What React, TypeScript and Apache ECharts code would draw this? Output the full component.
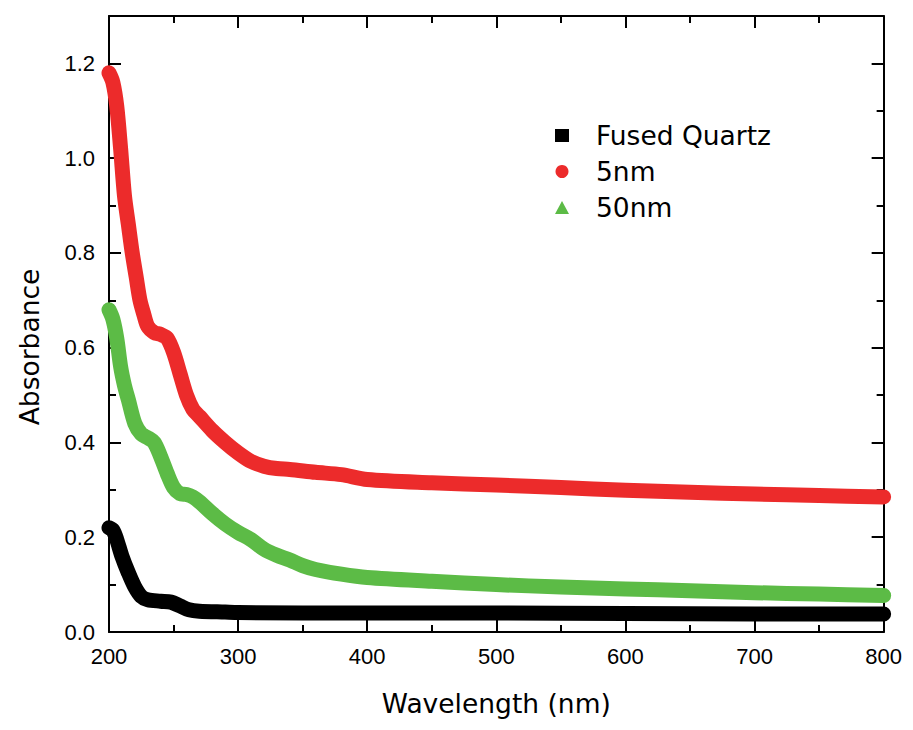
import React, { useEffect, useRef } from "react";
import * as echarts from "echarts";

const seriesNames = ["Fused Quartz", "5nm", "50nm"];
const seriesColors = ["#000000", "#ec2b2b", "#5cbb46"];
const seriesIcons = ["rect", "circle", "triangle"];

const quartzX = [200, 203, 206, 210, 215, 220, 225, 230, 240, 248, 255, 262, 270, 290, 300, 400, 500, 600, 700, 800];
const quartzY = [0.22, 0.215, 0.195, 0.16, 0.125, 0.095, 0.075, 0.068, 0.065, 0.063, 0.055, 0.047, 0.044, 0.042, 0.041, 0.04, 0.04, 0.039, 0.038, 0.038];

const nm5X = [200, 203, 206, 209, 212, 215, 218, 221, 224, 227, 230, 235, 240, 245, 250, 255, 260, 265, 270, 280, 290, 300, 310, 320, 330, 340, 360, 380, 400, 450, 500, 550, 600, 650, 700, 750, 800];
const nm5Y = [1.18, 1.16, 1.11, 1.02, 0.92, 0.86, 0.8, 0.75, 0.7, 0.67, 0.645, 0.632, 0.628, 0.62, 0.59, 0.545, 0.5, 0.47, 0.455, 0.425, 0.4, 0.378, 0.36, 0.35, 0.345, 0.343, 0.337, 0.332, 0.322, 0.315, 0.31, 0.305, 0.299, 0.295, 0.291, 0.288, 0.285];

const nm50X = [200, 203, 206, 209, 212, 215, 220, 225, 230, 235, 240, 245, 250, 255, 260, 265, 270, 280, 290, 300, 310, 320, 330, 340, 350, 360, 380, 400, 450, 500, 550, 600, 650, 700, 750, 800];
const nm50Y = [0.68, 0.66, 0.62, 0.56, 0.52, 0.49, 0.44, 0.418, 0.41, 0.4, 0.37, 0.335, 0.305, 0.292, 0.29, 0.285, 0.275, 0.25, 0.228, 0.21, 0.195, 0.175, 0.162, 0.152, 0.14, 0.132, 0.122, 0.115, 0.107, 0.1, 0.095, 0.091, 0.087, 0.083, 0.08, 0.077];

const xTickLabels = ["200", "300", "400", "500", "600", "700", "800"];
const yTickLabels = ["0.0", "0.2", "0.4", "0.6", "0.8", "1.0", "1.2"];

const FONT = "Liberation Sans, Arial, sans-serif";
const TITLE_FONT = "DejaVu Sans, sans-serif";

export default function App() {
  const ref = useRef<HTMLDivElement>(null);

  useEffect(() => {
    if (!ref.current) return;
    const chart = echarts.init(ref.current, undefined, { renderer: "svg" });
    const zip = (xs: number[], ys: number[]) => xs.map((x, i) => [x, ys[i]]);
    const datasets = [zip(quartzX, quartzY), zip(nm5X, nm5Y), zip(nm50X, nm50Y)];
    const axisLine = { show: true, onZero: false, lineStyle: { color: "#000", width: 2 } };

    const xBase = {
      type: "value" as const,
      min: 200,
      max: 800,
      interval: 100,
      axisLine,
      splitLine: { show: false },
    };
    const yBase = {
      type: "value" as const,
      min: 0,
      max: 1.3,
      interval: 0.2,
      axisLine,
      splitLine: { show: false },
    };

    chart.setOption({
      animation: false,
      backgroundColor: "#ffffff",
      grid: { left: 100, top: 8, width: 781, height: 624, containLabel: false },
      legend: {
        orient: "vertical",
        left: 542,
        top: 109,
        itemGap: 9,
        itemWidth: 14,
        itemHeight: 13,
        data: seriesNames.map((n, i) => ({ name: n, icon: seriesIcons[i] })),
        textStyle: { fontFamily: TITLE_FONT, fontSize: 26.5, color: "#000", padding: [0, 0, 0, 22] },
      },
      xAxis: [
        {
          ...xBase,
          position: "bottom",
          name: "Wavelength (nm)",
          nameLocation: "middle",
          nameGap: 58,
          nameTextStyle: { fontFamily: TITLE_FONT, fontSize: 26.5, color: "#000" },
          axisTick: { show: true, inside: true, length: 12, lineStyle: { color: "#000", width: 2 } },
          minorTick: { show: true, splitNumber: 2, length: 7, lineStyle: { color: "#000", width: 2 } },
          axisLabel: {
            show: true,
            margin: 13,
            fontFamily: FONT,
            fontSize: 22,
            color: "#000",
            formatter: (v: number) => xTickLabels.find((t) => Number(t) === v) ?? "",
          },
        },
        {
          ...xBase,
          position: "top",
          axisTick: { show: true, inside: true, length: 12, lineStyle: { color: "#000", width: 2 } },
          minorTick: { show: true, splitNumber: 2, length: 7, lineStyle: { color: "#000", width: 2 } },
          axisLabel: { show: false },
        },
      ],
      yAxis: [
        {
          ...yBase,
          position: "left",
          name: "Absorbance",
          nameLocation: "middle",
          nameGap: 66,
          nameTextStyle: { fontFamily: TITLE_FONT, fontSize: 26.5, color: "#000", padding: [0, 46, 0, 0] },
          axisTick: { show: true, inside: true, length: 12, lineStyle: { color: "#000", width: 2 } },
          axisLabel: {
            show: true,
            margin: 14,
            showMaxLabel: false,
            fontFamily: FONT,
            fontSize: 22,
            color: "#000",
            formatter: (v: number) => yTickLabels.find((t) => Math.abs(Number(t) - v) < 1e-6) ?? "",
          },
        },
        {
          ...yBase,
          position: "right",
          axisTick: { show: true, inside: true, length: 12, lineStyle: { color: "#000", width: 2 } },
          axisLabel: { show: false },
        },
        {
          ...yBase,
          interval: 0.1,
          position: "left",
          axisLine: { show: false },
          axisTick: { show: true, inside: true, length: 7, lineStyle: { color: "#000", width: 2 } },
          axisLabel: { show: false },
        },
        {
          ...yBase,
          interval: 0.1,
          position: "right",
          axisLine: { show: false },
          axisTick: { show: true, inside: true, length: 7, lineStyle: { color: "#000", width: 2 } },
          axisLabel: { show: false },
        },
      ],
      series: seriesNames.map((name, i) => ({
        name,
        type: "line",
        xAxisIndex: 0,
        yAxisIndex: 0,
        data: datasets[i],
        smooth: 0.3,
        showSymbol: false,
        symbol: seriesIcons[i],
        color: seriesColors[i],
        lineStyle: { color: seriesColors[i], width: 15, cap: "round", join: "round" },
        clip: true,
      })),
    });
    return () => chart.dispose();
  }, []);

  return <div ref={ref} style={{ width: 897, height: 714 }} />;
}
